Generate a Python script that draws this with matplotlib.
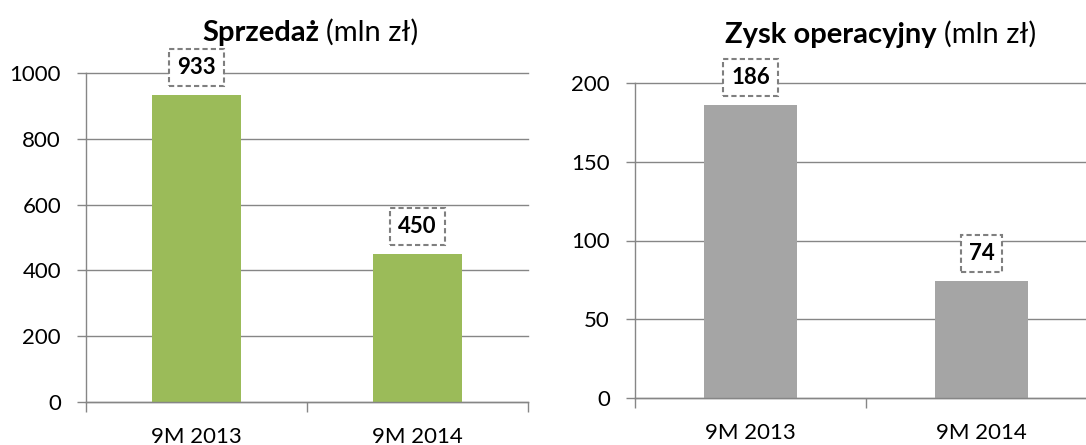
import matplotlib
matplotlib.use("Agg")
import matplotlib.pyplot as plt

plt.rcParams['font.family'] = ['Lato', 'DejaVu Sans']

# data
periods = ["9M 2013", "9M 2014"]
sales = [933, 450]
op_profit = [186, 74]
sales_ticks = [0, 200, 400, 600, 800, 1000]
profit_ticks = [0, 50, 100, 150, 200]

GRID = "#868686"
W, H = 1086, 445


def style_axis(ax, yticks, xmax):
    ax.set_axisbelow(True)
    ax.set_xlim(-0.5, xmax)
    ax.set_ylim(yticks[0], yticks[-1])
    ax.set_yticks(yticks)
    ax.set_xticks([-0.5, 0.5, 1.5])
    ax.set_xticklabels([])
    ax.set_xticks([0, 1], minor=True)
    ax.set_xticklabels(periods, minor=True)
    ax.tick_params(axis="y", length=6.5, width=1, color=GRID, pad=11.5, labelsize=16)
    ax.tick_params(axis="x", which="major", length=7, width=1, color=GRID)
    ax.tick_params(axis="x", which="minor", length=0, pad=18, labelsize=16)
    ax.yaxis.grid(True, color=GRID, linewidth=1)
    for line in ax.get_ygridlines():
        line.set_clip_on(False)
    for s in ["top", "right"]:
        ax.spines[s].set_visible(False)
    for s in ["left", "bottom"]:
        ax.spines[s].set_color(GRID)
        ax.spines[s].set_linewidth(1)


def label_bars(ax, values):
    for i, v in enumerate(values):
        ax.annotate(str(v), xy=(i, v), xytext=(0, 20), textcoords="offset points",
                    ha="center", va="center", fontsize=16, fontweight="bold", zorder=5,
                    bbox=dict(boxstyle="square,pad=0.36", fc="white", ec="#7f7f7f",
                              lw=1.5, ls=(0, (2.5, 1.5))))


def title(fig, x_px, base_px, bold, rest):
    t = fig.text(x_px / W, 1 - base_px / H, bold, fontsize=21, fontweight="bold",
                 ha="left", va="baseline")
    plt.annotate(rest, xy=(1, 0), xycoords=t, xytext=(5, 0), textcoords="offset points",
                 ha="left", va="bottom", fontsize=21, annotation_clip=False)


fig = plt.figure(figsize=(W / 100, H / 100), dpi=100)

ax1 = fig.add_axes([86 / W, (H - 402) / H, 442 / W, 329 / H])
ax1.bar([0, 1], sales, width=0.4, color="#9BBB59")
style_axis(ax1, sales_ticks, 1.5)
label_bars(ax1, sales)

ax2 = fig.add_axes([635 / W, (H - 398) / H, 462 / W, 315 / H])
ax2.bar([0, 1], op_profit, width=0.4, color="#A5A5A5")
style_axis(ax2, profit_ticks, 1.5)
label_bars(ax2, op_profit)

title(fig, 202, 41, "Sprzedaż", "(mln zł)")
title(fig, 725, 43, "Zysk operacyjny", "(mln zł)")

fig.savefig("out.png", dpi=100)
